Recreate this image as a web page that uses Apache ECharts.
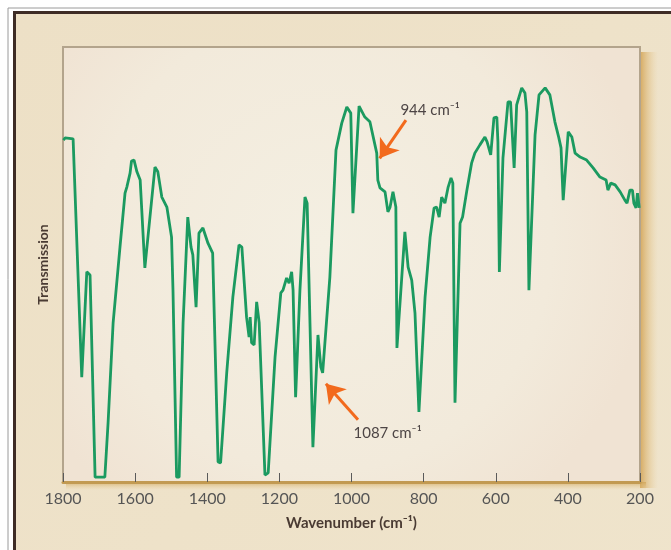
<!DOCTYPE html>
<html>
<head>
<meta charset="utf-8">
<script src="https://cdn.jsdelivr.net/npm/echarts@6/dist/echarts.min.js"></script>
<style>
  html, body { margin: 0; padding: 0; background: #ffffff; }
  #chart { width: 671px; height: 550px; }
</style>
</head>
<body>
<div id="chart"></div>
<script>
// IR spectrum (wavenumber in cm-1, transmission in %)
var wavenumber = [
  1799, 1794, 1772, 1748, 1734, 1725, 1711, 1684, 1675, 1661, 1642, 1628, 1623, 1614, 1610, 1603,
  1595, 1586, 1573, 1545, 1537, 1526, 1512, 1499, 1495, 1485, 1478, 1467, 1454, 1445, 1440, 1431,
  1423, 1412, 1409, 1398, 1385, 1370, 1363, 1346, 1329, 1312, 1304, 1291, 1284, 1281, 1277, 1270,
  1263, 1256, 1240, 1231, 1212, 1196, 1190, 1180, 1173, 1166, 1162, 1155, 1143, 1129, 1123, 1107,
  1093, 1085, 1080, 1060, 1043, 1027, 1013, 1010, 1002, 996, 979, 963, 949, 930, 927, 921,
  907, 899, 893, 885, 877, 874, 852, 843, 833, 824, 813, 796, 782, 771, 764, 757,
  750, 741, 732, 724, 719, 713, 699, 692, 680, 667, 658, 644, 630, 624, 614, 605,
  597, 594, 590, 580, 566, 559, 549, 542, 528, 519, 514, 508, 491, 480, 463, 450,
  436, 425, 419, 413, 399, 389, 380, 366, 348, 330, 311, 294, 289, 281, 269, 255,
  242, 236, 228, 221, 217, 211, 207, 202
];
var transmission = [
  78.6, 79.1, 78.9, 24.1, 48.3, 47.6, 1.1, 1.1, 13.6, 36.6, 54.0, 66.4, 67.8, 71.0, 73.8, 74.0,
  71.3, 69.4, 49.2, 72.4, 71.3, 65.5, 63.2, 56.3, 44.1, 1.1, 1.1, 36.6, 60.9, 54.0, 52.2, 40.2,
  57.2, 58.4, 58.6, 54.9, 52.6, 4.6, 4.4, 25.1, 42.5, 54.5, 54.0, 37.9, 33.3, 37.9, 32.0, 31.5,
  41.4, 36.6, 1.6, 2.1, 28.7, 43.5, 44.1, 46.9, 45.7, 48.3, 44.1, 19.5, 44.1, 65.5, 64.1, 8.0,
  33.8, 26.4, 25.1, 47.1, 76.3, 82.5, 86.2, 86.2, 84.8, 61.8, 86.4, 83.9, 82.8, 75.6, 69.4, 67.6,
  66.7, 62.1, 63.2, 66.7, 63.2, 30.8, 57.5, 49.4, 46.4, 38.9, 16.1, 42.5, 56.3, 63.0, 63.2, 60.9,
  65.5, 64.1, 67.8, 69.9, 68.7, 18.2, 59.5, 60.9, 67.1, 73.3, 75.6, 77.5, 79.3, 78.2, 75.2, 83.7,
  83.9, 78.2, 48.3, 74.5, 87.4, 87.4, 72.2, 86.7, 90.6, 89.4, 85.1, 44.1, 79.8, 89.0, 90.6, 89.0,
  82.8, 79.1, 76.8, 64.8, 80.5, 79.3, 75.6, 74.7, 74.0, 72.2, 70.1, 69.4, 67.1, 68.7, 68.3, 66.7,
  64.8, 64.1, 67.1, 67.1, 64.1, 63.0, 66.4, 63.0
];

var xTicks = [1800, 1600, 1400, 1200, 1000, 800, 600, 400, 200];

// annotations: label text, label spot, arrow tail, arrow head
var noteText = ['944 cm⁻¹', '1087 cm⁻¹'];
var noteLabelAt = [[782, 85.5], [900, 11.3]];
var noteArrowFrom = [[849, 83.2], [982, 14.3]];
var noteArrowTo = [[922, 74.4], [1071, 22.6]];

var points = wavenumber.map(function (w, i) { return [w, transmission[i]]; });

var chart = echarts.init(document.getElementById('chart'));
chart.setOption({
  animation: false,
  backgroundColor: '#ffffff',
  graphic: [
    { type: 'rect', z: -10, shape: { x: 8, y: 8, width: 700, height: 600 },
      style: { fill: '#ffffff', stroke: '#9a9a9a', lineWidth: 1 } },
    { type: 'rect', z: -9, shape: { x: 14.5, y: 12.5, width: 700, height: 600 },
      style: {
        fill: new echarts.graphic.LinearGradient(0, 0, 1, 1, [
          { offset: 0, color: '#ede0c6' },
          { offset: 1, color: '#efe4cc' }
        ]),
        stroke: '#3e2c26', lineWidth: 3
      } },
    // soft shadow right of and below the plot
    { type: 'rect', z: -8, shape: { x: 640, y: 52, width: 18, height: 436 },
      style: {
        fill: new echarts.graphic.LinearGradient(0, 0, 1, 0, [
          { offset: 0, color: 'rgba(205,150,60,0.75)' },
          { offset: 1, color: 'rgba(230,200,140,0)' }
        ])
      } },
    { type: 'rect', z: -8, shape: { x: 66, y: 482, width: 580, height: 8 },
      style: {
        fill: new echarts.graphic.LinearGradient(0, 0, 0, 1, [
          { offset: 0, color: 'rgba(205,160,80,0.7)' },
          { offset: 1, color: 'rgba(230,200,140,0)' }
        ])
      } }
  ],
  grid: {
    left: 63, right: 31, top: 47, bottom: 68,
    show: true,
    backgroundColor: new echarts.graphic.RadialGradient(0.45, 0.45, 0.75, [
      { offset: 0, color: '#f4efe2' },
      { offset: 0.7, color: '#f2eadb' },
      { offset: 1, color: '#f0e3d3' }
    ]),
    borderColor: '#b3a48c',
    borderWidth: 2
  },
  xAxis: {
    type: 'value',
    min: 200, max: 1800, interval: 200,
    inverse: true,
    name: 'Wavenumber (cm⁻¹)',
    nameLocation: 'middle',
    nameGap: 34,
    nameTextStyle: { fontFamily: 'Lato', fontSize: 15, fontWeight: 'bold', color: '#4a3b33' },
    axisLine: { lineStyle: { color: '#c29a52', width: 3 } },
    axisTick: { inside: true, length: 9, lineStyle: { color: '#5a5a5a', width: 1 } },
    axisLabel: {
      fontFamily: 'Lato', fontSize: 16, color: '#555555', margin: 9,
      formatter: function (v) { return xTicks.indexOf(v) >= 0 ? String(v) : ''; }
    },
    splitLine: { show: false }
  },
  yAxis: {
    type: 'value',
    min: 0, max: 100,
    name: 'Transmission',
    nameLocation: 'middle',
    nameGap: 13,
    nameTextStyle: { fontFamily: 'Lato', fontSize: 14, fontWeight: 'bold', color: '#4a3b33' },
    axisLine: { show: false },
    axisTick: { show: false },
    axisLabel: { show: false },
    splitLine: { show: false }
  },
  series: [{
    type: 'line',
    data: points,
    showSymbol: false,
    lineStyle: { color: '#1b9a60', width: 2.8 },
    markLine: {
      silent: true,
      symbol: ['none', 'arrow'],
      symbolSize: 18,
      lineStyle: { color: '#f26a1d', width: 3, type: 'solid' },
      itemStyle: { color: '#f26a1d' },
      label: { show: false },
      data: noteArrowFrom.map(function (p, i) {
        return [{ coord: p }, { coord: noteArrowTo[i] }];
      })
    },
    markPoint: {
      silent: true,
      symbol: 'circle',
      symbolSize: 0,
      label: {
        show: true, position: 'inside',
        fontFamily: 'Lato', fontSize: 15, color: '#4d4545',
        formatter: function (p) { return p.name; }
      },
      data: noteText.map(function (t, i) {
        return { name: t, coord: noteLabelAt[i] };
      })
    }
  }]
});
</script>
</body>
</html>
